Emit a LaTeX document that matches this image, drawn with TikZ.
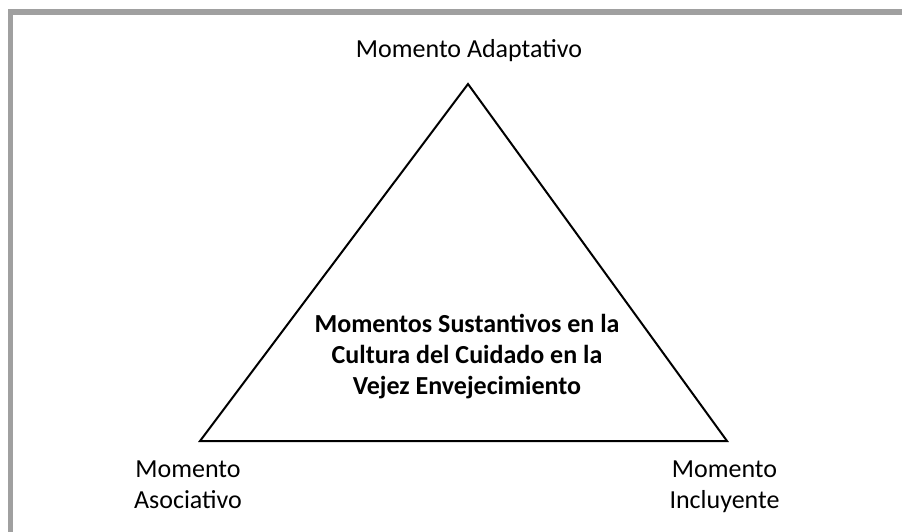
\documentclass[tikz,border=0pt]{standalone}
\usepackage{fontspec}
\setmainfont{Carlito}
\usetikzlibrary{positioning}
\definecolor{framegray}{HTML}{A0A0A0}
\tikzstyle{moment} = [align=center,
                    inner sep=0pt,
                    font=\fontsize{26}{31}\selectfont]
\tikzstyle{core} = [moment,
                    font=\fontsize{26}{31}\selectfont\bfseries]

\begin{document}
\begin{tikzpicture}[x=1pt, y=-1pt,
                      line join=miter]
    \useasboundingbox (0,0) rectangle (902,532);
    % frame
    \draw[framegray, line width=5.5pt] (10.5,532) |- (902,12);
    % triangle corners
    \coordinate (top) at (468,84);
    \coordinate (left) at (200,441);
    \coordinate (right) at (727,441);
    \draw[line width=2pt] (top) -- (right) -- (left) -- cycle;
    \node (adapt) [moment, anchor=base] at (469,58) {Momento Adaptativo};
    \node (asoc) [moment, anchor=north] at (188,461) {Momento\\Asociativo};
    \node (incl) [moment, anchor=north] at (724.5,461) {Momento\\Incluyente};
    \node (center) [core] at (467,357) {Momentos Sustantivos en la\\Cultura del Cuidado en la\\Vejez Envejecimiento};
\end{tikzpicture}
\end{document}
